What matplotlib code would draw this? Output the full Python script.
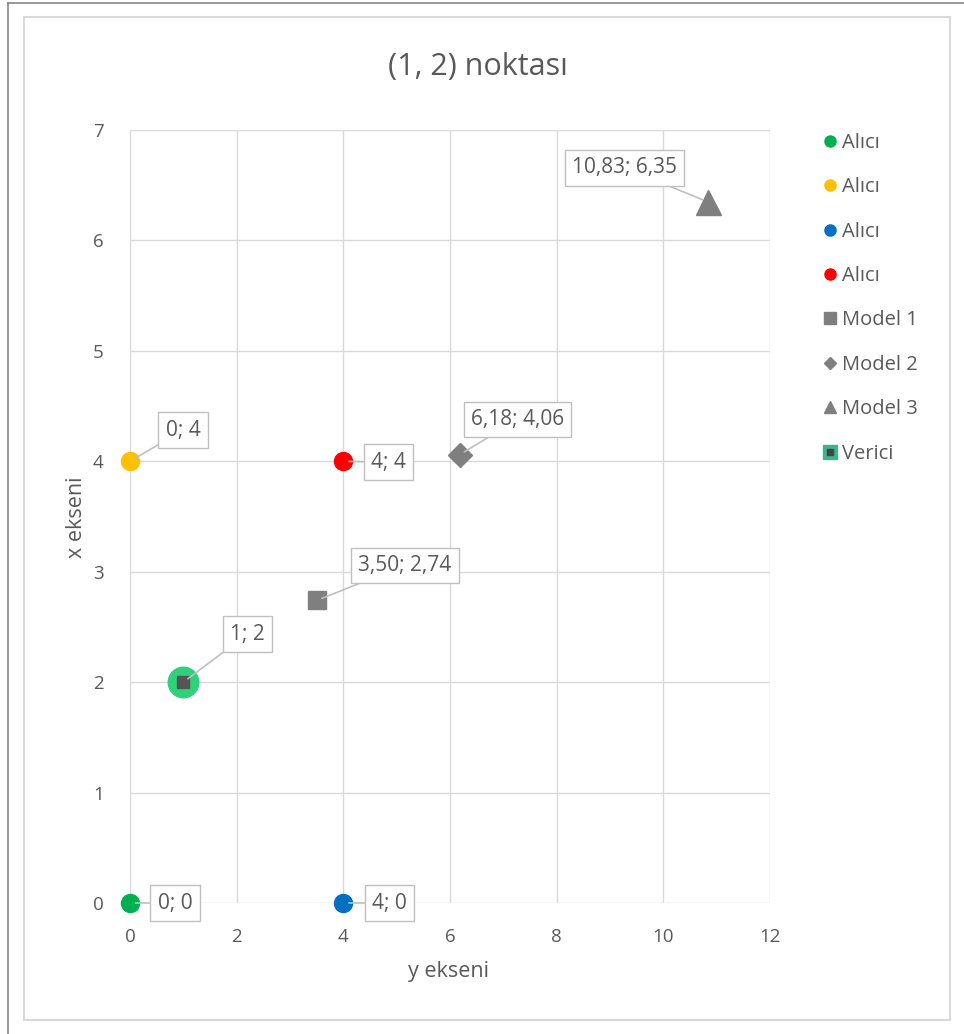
import matplotlib
matplotlib.use("Agg")
import matplotlib.pyplot as plt
from matplotlib.lines import Line2D
from matplotlib.patches import Rectangle

plt.rcParams['font.family'] = ['Open Sans', 'DejaVu Sans']

# Receivers (Alıcı)
alici_x = [0, 0, 4, 4]
alici_y = [0, 4, 0, 4]
alici_colors = ['#00b050', '#ffc000', '#0070c0', '#ff0000']
alici_labels = ['0; 0', '0; 4', '4; 0', '4; 4']

# Model estimates
model_x = [3.50, 6.18, 10.83]
model_y = [2.74, 4.06, 6.35]
model_names = ['Model 1', 'Model 2', 'Model 3']
model_markers = ['s', 'D', '^']
model_labels = ['3,50; 2,74', '6,18; 4,06', '10,83; 6,35']

# Transmitter (Verici)
verici_x = [1]
verici_y = [2]
verici_labels = ['1; 2']

x_ticks = [0, 2, 4, 6, 8, 10, 12]
y_ticks = [0, 1, 2, 3, 4, 5, 6, 7]

TXT = '#595959'
GRID = '#d9d9d9'
GRAY = '#7f7f7f'

fig = plt.figure(figsize=(9.64, 10.34), dpi=100)
W, H = 964, 1034

# Screenshot edges and chart-area frame
fig.add_artist(Line2D([8 / W, 8 / W], [0, 1 - 3 / H], color='#888888', lw=1.2))
fig.add_artist(Line2D([8 / W, 1], [1 - 3 / H, 1 - 3 / H], color='#888888', lw=1.2))
fig.add_artist(Rectangle((24 / W, 1 - 1020 / H), (950 - 24) / W, (1020 - 17) / H,
                         transform=fig.transFigure, fill=False,
                         edgecolor='#d9d9d9', lw=1.5))

ax = fig.add_axes([130 / W, 131 / H, 640 / W, 773 / H])
ax.set_xlim(0, 12)
ax.set_ylim(0, 7)
ax.set_xticks(x_ticks)
ax.set_yticks(y_ticks)
ax.grid(True, color=GRID, lw=1.0, zorder=0)
ax.set_axisbelow(True)
for s in ax.spines.values():
    s.set_visible(False)
ax.tick_params(length=0, labelsize=13.5, labelcolor=TXT)
ax.tick_params(axis='x', pad=18)
ax.tick_params(axis='y', pad=19)

fig.text(449 / W, 1 - 972 / H, 'y ekseni', fontsize=15.5, color=TXT,
         ha='center', va='center')
fig.text(77 / W, 1 - 517 / H, 'x ekseni', fontsize=15.5, color=TXT,
         ha='center', va='center', rotation=90)
fig.text(478 / W, 1 - 67 / H, '(1, 2) noktası', fontsize=22, color=TXT,
         ha='center', va='center')

handles = []
labels = []

for x, y, c in zip(alici_x, alici_y, alici_colors):
    ax.plot([x], [y], 'o', color=c, ms=13, clip_on=False, zorder=5)
    handles.append(Line2D([], [], marker='o', color=c, ls='', ms=8))
    labels.append('Alıcı')

marker_size = {'s': 13, 'D': 12, '^': 18}
legend_size = {'s': 8, 'D': 6, '^': 8}
for x, y, m, name in zip(model_x, model_y, model_markers, model_names):
    ax.plot([x], [y], marker=m, color=GRAY, ls='', ms=marker_size[m],
            clip_on=False, zorder=5)
    handles.append(Line2D([], [], marker=m, color=GRAY, ls='', ms=legend_size[m]))
    labels.append(name)

ax.plot(verici_x, verici_y, 'o', color='#2fd27a', ms=22, clip_on=False, zorder=5)
ax.plot(verici_x, verici_y, 's', color='#555555', ms=8, clip_on=False, zorder=6)
handles.append((Line2D([], [], marker='s', color='#3cb58a', ls='', ms=10),
                Line2D([], [], marker='s', color='#444444', ls='', ms=4)))
labels.append('Verici')

# Data labels with callout lines
box = dict(boxstyle='square,pad=0.35', fc='white', ec='#bfbfbf', lw=1.0)
arrow = dict(arrowstyle='-', color='#bfbfbf', lw=1.2, shrinkA=0, shrinkB=4)

offsets_alici = [(45, 0), (53, 31), (46, 0), (45, -1)]
for x, y, t, off in zip(alici_x, alici_y, alici_labels, offsets_alici):
    ax.annotate(t, (x, y), xytext=off, textcoords='offset pixels',
                ha='center', va='center', fontsize=15, color=TXT,
                bbox=box, arrowprops=arrow, zorder=7, annotation_clip=False)

offsets_model = [(88, 35), (58, 35), (-83, 34)]
for x, y, t, off in zip(model_x, model_y, model_labels, offsets_model):
    ax.annotate(t, (x, y), xytext=off, textcoords='offset pixels',
                ha='center', va='center', fontsize=15, color=TXT,
                bbox=box, arrowprops=arrow, zorder=7, annotation_clip=False)

for x, y, t in zip(verici_x, verici_y, verici_labels):
    ax.annotate(t, (x, y), xytext=(64, 48), textcoords='offset pixels',
                ha='center', va='center', fontsize=15, color=TXT,
                bbox=box, arrowprops=arrow, zorder=7, annotation_clip=False)

fig.legend(handles, labels, loc='upper left',
           bbox_to_anchor=(822 / W, 1 - 133 / H), frameon=False,
           fontsize=14.5, labelcolor=TXT, handlelength=0.8, handletextpad=0.2,
           labelspacing=1.21, borderaxespad=0, borderpad=0)

fig.savefig('out.png', dpi=100, facecolor='white')
